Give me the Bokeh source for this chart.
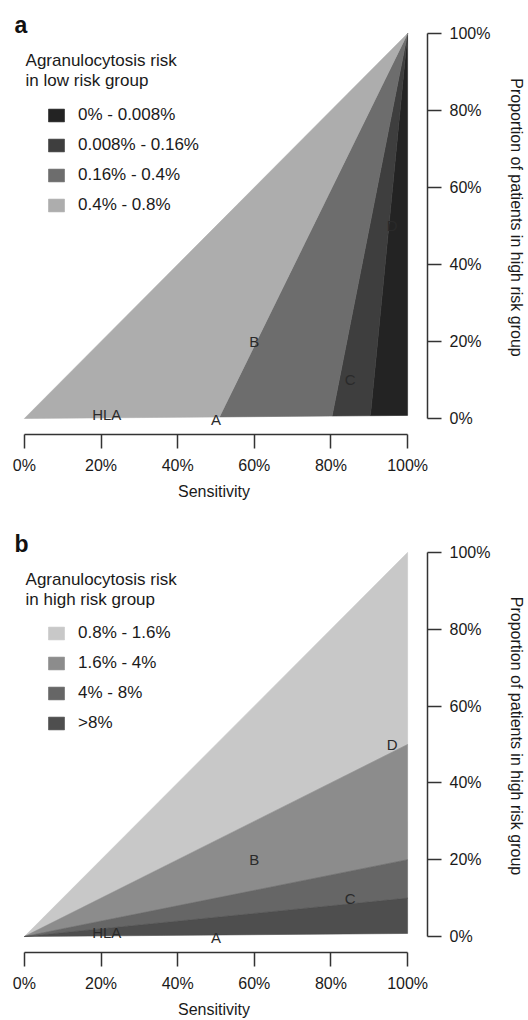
from bokeh.plotting import figure
from bokeh.models import ColumnDataSource, Legend, LegendItem, Label, FixedTicker, Range1d
from bokeh.layouts import column
from bokeh.core.properties import value
from bokeh.embed import file_html
from bokeh.resources import INLINE

FONT = "Liberation Sans"

tick_values = [0, 20, 40, 60, 80, 100]
tick_labels = ["0%", "20%", "40%", "60%", "80%", "100%"]
x_title = "Sensitivity"
y_title = "Proportion of patients in high risk group"

# Panel a: boundaries fan out from (100%, 100%) down to the floor line
a_letter = "a"
a_title = ["Agranulocytosis risk", "in low risk group"]
a_labels = ["0% - 0.008%", "0.008% - 0.16%", "0.16% - 0.4%", "0.4% - 0.8%"]
a_colors = ["#232323", "#3e3e3e", "#6d6d6d", "#adadad"]
a_cuts = [100, 90.3, 80.3, 50.9, 0]      # sensitivity where each boundary meets the floor
a_apex = [100, 100]

# Panel b: boundaries fan out from the origin to the 100% sensitivity edge
b_letter = "b"
b_title = ["Agranulocytosis risk", "in high risk group"]
b_labels = ["0.8% - 1.6%", "1.6% - 4%", "4% - 8%", ">8%"]
b_colors = ["#c8c8c8", "#8c8c8c", "#666666", "#4e4e4e"]
b_ends = [100, 50, 20, 10, 0.8]          # proportion reached at 100% sensitivity

floor_end = 0.8                          # floor runs from (0, 0) to (100, 0.8)

point_names = ["HLA", "A", "B", "C", "D"]
point_sens = [21.5, 50, 60, 85, 96]
point_prop = [1.1, -0.3, 20, 10, 50]


def floor(x):
    return floor_end * x / 100.0


def polys_a():
    out = []
    for i in range(len(a_labels)):
        xs = [a_apex[0], a_cuts[i], a_cuts[i + 1]]
        ys = [a_apex[1], floor(a_cuts[i]), floor(a_cuts[i + 1])]
        out.append((xs, ys))
    return out


def polys_b():
    out = []
    for i in range(len(b_labels)):
        xs = [0, 100, 100]
        ys = [0, b_ends[i], b_ends[i + 1]]
        out.append((xs, ys))
    return out


def make_panel(letter, titles, labels, colors, polys, height, bottom_border):
    p = figure(width=528, height=height, output_backend="svg", toolbar_location=None,
               x_range=Range1d(-6.234, 105.195), y_range=Range1d(-4.156, 108.571),
               y_axis_location="right", min_border_left=0, min_border_top=0,
               min_border_right=99, min_border_bottom=bottom_border)
    p.outline_line_color = None
    p.grid.grid_line_color = None
    p.background_fill_color = "white"
    p.border_fill_color = "white"

    items = []
    for lab, col, (xs, ys) in zip(labels, colors, polys):
        r = p.patch(xs, ys, fill_color=col, line_color=col, line_width=0.6)
        items.append(LegendItem(label=lab, renderers=[r]))

    src = ColumnDataSource(dict(x=point_sens, y=point_prop, t=point_names))
    p.text("x", "y", text="t", source=src, text_align="center", text_baseline="middle",
           text_font=value(FONT), text_font_size="15px", text_color="#2a2a2a")

    legend = Legend(items=items, location=(46, 218), orientation="vertical",
                    glyph_width=20, glyph_height=16, label_height=22, spacing=8,
                    label_standoff=12, padding=0, margin=0,
                    border_line_color=None, background_fill_alpha=0,
                    label_text_font=FONT, label_text_font_size="17px",
                    label_text_color="#1a1a1a")
    p.add_layout(legend)

    p.add_layout(Label(x=-2.6, y=102.1, text=letter, text_font=FONT, text_font_size="23px",
                       text_font_style="bold", text_color="#111111",
                       text_baseline="alphabetic", text_align="left"))
    p.add_layout(Label(x=0.3, y=93.0, text=titles[0], text_font=FONT, text_font_size="17px",
                       text_color="#1a1a1a", text_baseline="middle", text_align="left"))
    p.add_layout(Label(x=0.3, y=87.8, text=titles[1], text_font=FONT, text_font_size="17px",
                       text_color="#1a1a1a", text_baseline="middle", text_align="left"))

    overrides = {v: s for v, s in zip(tick_values, tick_labels)}
    for ax, lab in ((p.xaxis[0], x_title), (p.yaxis[0], y_title)):
        ax.bounds = (0, 100)
        ax.ticker = FixedTicker(ticks=tick_values)
        ax.major_label_overrides = overrides
        ax.minor_tick_line_color = None
        ax.major_tick_in = 0
        ax.major_tick_out = 14
        ax.major_label_standoff = 8
        ax.axis_line_width = 1.5
        ax.axis_line_color = "#333333"
        ax.major_tick_line_width = 1.5
        ax.major_tick_line_color = "#333333"
        ax.major_label_text_font = FONT
        ax.major_label_text_font_size = "16px"
        ax.major_label_text_color = "#1a1a1a"
        ax.axis_label = lab
        ax.axis_label_text_font = FONT
        ax.axis_label_text_font_size = "16px"
        ax.axis_label_text_font_style = "normal"
        ax.axis_label_text_color = "#1a1a1a"
    p.xaxis[0].axis_label_standoff = 6
    p.yaxis[0].axis_label_standoff = 15
    return p


pa = make_panel(a_letter, a_title, a_labels, a_colors, polys_a(), 519, 85)
pb = make_panel(b_letter, b_title, b_labels, b_colors, polys_b(), 501, 67)

layout = column(pa, pb, spacing=0)
open("out.html", "w").write(file_html(layout, INLINE))
